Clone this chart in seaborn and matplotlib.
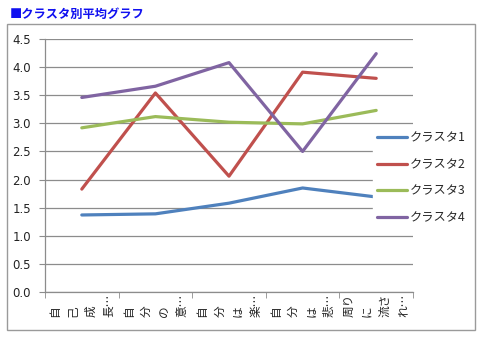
import matplotlib
matplotlib.use("Agg")
import matplotlib.pyplot as plt
import matplotlib.patches as mpatches
import matplotlib.transforms as mtransforms
import seaborn as sns
import pandas as pd

categories = ["自己成長…", "自分の意…", "自分は楽…", "自分は悲…", "周りに流され…"]
tick_labels = ["自\n己\n成\n長…", "自\n分\nの\n意…", "自\n分\nは\n楽…", "自\n分\nは\n悲…", "周り\nに\n流さ\nれ…"]
series_names = ["クラスタ1", "クラスタ2", "クラスタ3", "クラスタ4"]
cluster1 = [1.37, 1.39, 1.58, 1.85, 1.69]
cluster2 = [1.83, 3.54, 2.06, 3.91, 3.80]
cluster3 = [2.92, 3.12, 3.02, 2.99, 3.23]
cluster4 = [3.46, 3.66, 4.08, 2.50, 4.24]
colors = ["#4F81BD", "#C0504D", "#9BBB59", "#8064A2"]

sns.set_style("white")
plt.rcParams['font.family'] = ['Noto Sans CJK JP', 'DejaVu Sans']

rows = []
for name, vals in zip(series_names, [cluster1, cluster2, cluster3, cluster4]):
    for i, v in enumerate(vals):
        rows.append({"x": i, "value": v, "series": name})
df = pd.DataFrame(rows)

fig = plt.figure(figsize=(4.84, 3.37), dpi=100)
W, H = 484, 337
ax = fig.add_axes([45 / W, 1 - 292 / H, (413 - 45) / W, (292 - 39) / H])

sns.lineplot(data=df, x="x", y="value", hue="series", palette=colors,
             linewidth=2.3, ax=ax, sort=False, legend=True)

ax.set_xlim(-0.5, 4.5)
ax.set_ylim(0, 4.5)
ax.set_yticks([i * 0.5 for i in range(10)])
ax.set_yticklabels([f"{i * 0.5:.1f}" for i in range(10)], fontsize=8.5, family='DejaVu Sans', color='#222222')
ax.yaxis.grid(True, color='#8c8c8c', linewidth=0.9)
ax.set_axisbelow(True)

ax.set_xticks(range(5))
ax.set_xticklabels([""] * 5)
ax.set_xticks([i - 0.5 for i in range(6)], minor=True)
ax.tick_params(axis='x', which='major', length=0)
ax.tick_params(axis='x', which='minor', length=4, color='#8c8c8c', direction='out', bottom=True)
ax.tick_params(axis='y', length=4, color='#8c8c8c', direction='out', left=True, pad=6)
ax.set_xlabel("")
ax.set_ylabel("")

# vertical, column-wrapped category labels (Excel style)
base = ax.get_xaxis_transform()
col_step = 18.0
for i, lab in enumerate(tick_labels):
    cols = lab.split("\n")
    n = len(cols)
    for j, c in enumerate(cols):
        dx = (j - (n - 1) / 2) * col_step
        tr = mtransforms.offset_copy(base, fig=fig, x=dx, y=-25, units='dots')
        ax.text(i, 0, c, transform=tr, rotation=90, fontsize=8.4,
                ha='center', va='bottom', color='#222222', clip_on=False)

for s in ['top', 'right']:
    ax.spines[s].set_visible(False)
for s in ['left', 'bottom']:
    ax.spines[s].set_color('#8c8c8c')
    ax.spines[s].set_linewidth(0.9)

leg = ax.legend(loc='upper left', bbox_to_anchor=(373 / W, 1 - 128 / H), bbox_transform=fig.transFigure,
                frameon=True, fontsize=8.8, handlelength=2.5, labelspacing=1.1,
                handletextpad=0.2, borderpad=0.3, borderaxespad=0)
leg.get_frame().set_edgecolor('white')
leg.get_frame().set_facecolor('white')
leg.get_frame().set_alpha(1)
for line in leg.get_lines():
    line.set_linewidth(2.3)

rect = mpatches.Rectangle((7 / W, 1 - 330 / H), (475 - 7) / W, (330 - 24) / H,
                          transform=fig.transFigure, fill=False, edgecolor='#9a9a9a', linewidth=1)
fig.patches.append(rect)

fig.text(10 / W, 1 - 14 / H, "■クラスタ別平均グラフ", color='#1010F0', fontsize=8.8,
         fontweight='bold', va='center', ha='left')

fig.savefig("out.png", dpi=100)
